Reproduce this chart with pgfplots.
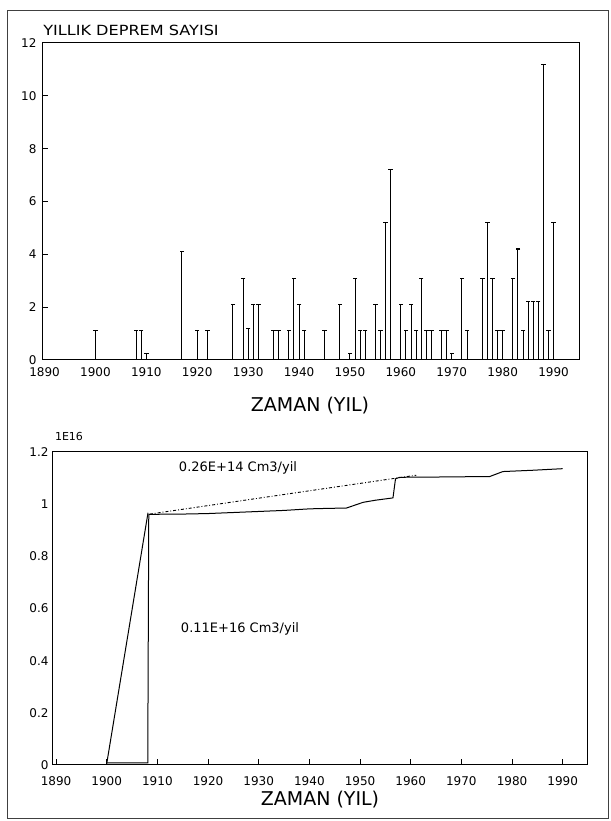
\documentclass[border=0pt]{standalone}
\usepackage{fontspec}
\setmainfont{DejaVu Sans}
\usepackage{pgfplots}
\pgfplotsset{compat=1.18}
\usepackage{pgfplotstable}

\pgfplotstableread{
year n
1900 1.1
1908 1.1
1909 1.1
1910 0.25
1917 4.1
1920 1.1
1922 1.1
1927 2.1
1929 3.1
1930 1.2
1931 2.1
1932 2.1
1935 1.1
1936 1.1
1938 1.1
1939 3.1
1940 2.1
1941 1.1
1945 1.1
1948 2.1
1950 0.25
1951 3.1
1952 1.1
1953 1.1
1955 2.1
1956 1.1
1957 5.2
1958 7.2
1960 2.1
1961 1.1
1962 2.1
1963 1.1
1964 3.1
1965 1.1
1966 1.1
1968 1.1
1969 1.1
1970 0.25
1972 3.1
1973 1.1
1976 3.1
1977 5.2
1978 3.1
1979 1.1
1980 1.1
1982 3.1
1983 4.2
1984 1.1
1985 2.2
1986 2.2
1987 2.2
1988 11.2
1989 1.1
1990 5.2
}\counts

\pgfplotstableread{
year v
1900 0.008
1908.1 0.008
1908.3 0.961
1915 0.962
1920 0.964
1925 0.968
1930 0.972
1935 0.976
1940 0.982
1944 0.984
1947.3 0.985
1950.6 1.007
1953 1.015
1956.5 1.024
1957 1.097
1957.8 1.103
1965 1.104
1975.6 1.106
1978.2 1.125
1984.1 1.130
1990 1.136
}\cumul

\pgfplotsset{
  every axis/.append style={
    scale only axis,
    anchor=south west,
    axis line style={line width=1bp, black},
    tick style={line width=1bp, black},
    tick label style={font=\fontsize{12bp}{14bp}\selectfont, black},
    /pgf/number format/assume math mode=true,
    /pgf/number format/1000 sep={},
    tick align=inside,
    major tick length=6bp,
  }
}

\begin{document}
\begin{tikzpicture}[x=1bp,y=1bp]
\useasboundingbox (0,0) rectangle (611,821);
\draw[line width=0.8bp, black!75] (7,3) rectangle (608,811);

% ---------- top panel ----------
\begin{axis}[
  at={(42bp,461bp)},
  width=537bp, height=317bp,
  xmin=1889.5, xmax=1995,
  ymin=0, ymax=12,
  xtick={1890,1900,...,1990},
  ytick={0,2,...,12},
  ytick pos=left,
  xtick pos=bottom,
  x tick style={draw=none},
  xticklabel style={yshift=-4bp},
  yticklabel style={xshift=-2bp},
]
\addplot[ycomb, black, line width=1bp, mark=-, mark size=2.2bp, mark options={solid, line width=1.1bp}]
  table[x=year, y=n] {\counts};
\end{axis}

\node[font=\fontsize{14bp}{16bp}\selectfont, black] at (131,791) {\scalebox{1.15}[1]{YILLIK DEPREM SAYISI}};
\node[font=\fontsize{19bp}{22bp}\selectfont, black] at (310,415) {ZAMAN (YIL)};

% ---------- bottom panel ----------
\begin{axis}[
  at={(52bp,56bp)},
  width=535bp, height=313bp,
  xmin=1889.2, xmax=1994.8,
  ymin=0, ymax=1.2,
  xtick={1890,1900,...,1990},
  ytick={0,0.2,0.4,0.6,0.8,1,1.2},
  yticklabels={0,0.2,0.4,0.6,0.8,1,1.2},
  xtick pos=bottom,
  y tick style={draw=none},
  xticklabel style={yshift=-8bp},
]
\addplot[black, line width=1bp] table[x=year, y=v] {\cumul};
\addplot[black, line width=1bp] coordinates {(1900,0.005) (1908.15,0.967)};
\addplot[black, line width=0.9bp, dash dot] coordinates {(1908.5,0.962) (1961.1,1.111)};
\end{axis}

\node[font=\fontsize{11bp}{13bp}\selectfont, black] at (69,384) {1E16};
\node[font=\fontsize{13bp}{15bp}\selectfont, black] at (238,353) {0.26E+14 Cm3/yil};
\node[font=\fontsize{13bp}{15bp}\selectfont, black] at (240,192) {0.11E+16 Cm3/yil};
\node[font=\fontsize{19bp}{22bp}\selectfont, black] at (320,21) {ZAMAN (YIL)};
\end{tikzpicture}
\end{document}
